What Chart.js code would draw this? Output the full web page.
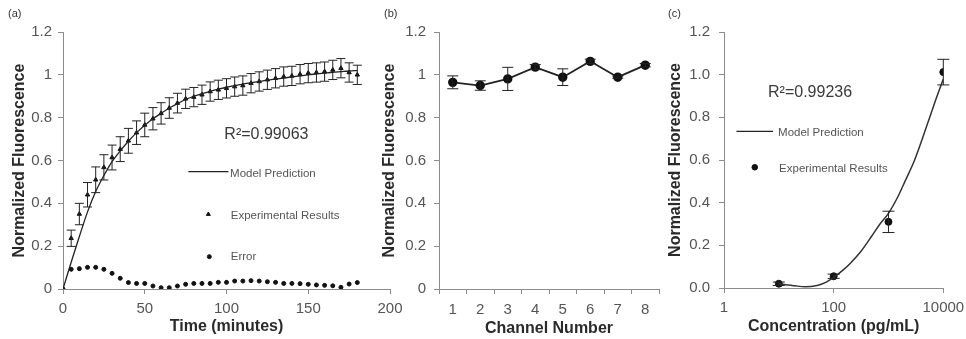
<!DOCTYPE html>
<html>
<head>
<meta charset="utf-8">
<script src="https://cdn.jsdelivr.net/npm/chart.js@4.4.1/dist/chart.umd.min.js"></script>
<style>
  body { margin: 0; background: #fff; width: 966px; height: 339px; overflow: hidden; position: relative; font-family: "Liberation Sans", Arial, sans-serif; }
  .panel { position: absolute; top: 0; height: 339px; }
  .tag { position: absolute; top: 7px; font-size: 11px; line-height: 13px; color: #333; }
</style>
</head>
<body>
<div class="panel" style="left:0;width:420px"><canvas id="chartA" width="420" height="339"></canvas></div>
<div class="panel" style="left:370px;width:310px"><canvas id="chartB" width="310" height="339"></canvas></div>
<div class="panel" style="left:656px;width:310px"><canvas id="chartC" width="310" height="339"></canvas></div>
<span class="tag" style="left:8px">(a)</span>
<span class="tag" style="left:384px">(b)</span>
<span class="tag" style="left:668px">(c)</span>
<script>
// (a) time course, one reading every 5 minutes
const timeMin = [0, 5, 10, 15, 20, 25, 30, 35, 40, 45, 50, 55, 60, 65, 70, 75, 80, 85, 90,
    95, 100, 105, 110, 115, 120, 125, 130, 135, 140, 145, 150, 155, 160, 165, 170, 175, 180];
const expA = [0, 0.237, 0.35, 0.44, 0.51, 0.568, 0.614, 0.653, 0.692, 0.73, 0.766, 0.795, 0.82,
    0.845, 0.868, 0.888, 0.896, 0.907, 0.922, 0.93, 0.937, 0.945, 0.95, 0.961, 0.969, 0.977,
    0.984, 0.992, 0.995, 1.003, 1.008, 1.011, 1.015, 1.023, 1.031, 1.011, 1.0];
const expErrA = [0, 0.038, 0.05, 0.057, 0.06, 0.059, 0.058, 0.058, 0.058, 0.055, 0.055, 0.052,
    0.05, 0.048, 0.046, 0.045, 0.045, 0.045, 0.045, 0.045, 0.045, 0.045, 0.045, 0.045, 0.045,
    0.045, 0.045, 0.045, 0.045, 0.045, 0.045, 0.045, 0.045, 0.045, 0.045, 0.045, 0.045];
const modelA = [0, 0.125, 0.245, 0.36, 0.455, 0.53, 0.595, 0.645, 0.69, 0.73, 0.765, 0.795, 0.82,
    0.845, 0.865, 0.885, 0.9, 0.912, 0.923, 0.933, 0.942, 0.95, 0.957, 0.963, 0.969, 0.975,
    0.98, 0.985, 0.99, 0.995, 1.0, 1.004, 1.008, 1.012, 1.015, 1.018, 1.02];
const errorA = [0, 0.092, 0.095, 0.101, 0.101, 0.092, 0.073, 0.05, 0.03, 0.026, 0.026, 0.014,
    0.006, 0.006, 0.014, 0.022, 0.026, 0.026, 0.026, 0.031, 0.031, 0.037, 0.037, 0.039, 0.037,
    0.034, 0.031, 0.026, 0.026, 0.025, 0.022, 0.019, 0.017, 0.015, 0.008, 0.023, 0.03];

// (b) channels
const channels = ['1', '2', '3', '4', '5', '6', '7', '8'];
const channelVals = [0.965, 0.95, 0.981, 1.036, 0.989, 1.063, 0.989, 1.045];
const channelErr = [0.03, 0.022, 0.054, 0.012, 0.039, 0.01, 0.005, 0.008];

// (c) concentration response
const concPoints = [10, 100, 1000, 10000];
const concVals = [0.02, 0.055, 0.31, 1.012];
const concErr = [0.008, 0.01, 0.05, 0.06];
const modelConc = [10, 20, 30, 50, 70, 100, 150, 200, 300, 500, 700, 1000, 1500, 2000, 3000, 5000, 7000, 10000];
const modelConcVals = [0.02, 0.01, 0.006, 0.012, 0.025, 0.05, 0.085, 0.115, 0.165, 0.245, 0.3,
    0.35, 0.43, 0.5, 0.6, 0.76, 0.87, 0.98];
const concTicks = [1, 100, 10000];

const FONT = '"Liberation Sans", Arial, sans-serif';
Chart.defaults.font.family = FONT;
Chart.defaults.animation = false;

const AXIS_GREY = '#8c8c8c';
const TICK_COLOR = '#555';
const TITLE_COLOR = '#2a2a2a';

// draws vertical error bars with caps for datasets carrying errorBars
const errorBarPlugin = {
    id: 'errorBars',
    afterDatasetsDraw(chart, args, opts) {
        const ctx = chart.ctx;
        const ys = chart.scales.y;
        chart.data.datasets.forEach((ds, i) => {
            if (!ds.errorBars) return;
            const meta = chart.getDatasetMeta(i);
            ctx.save();
            ctx.strokeStyle = '#222';
            ctx.lineWidth = 1;
            meta.data.forEach((pt, j) => {
                const e = ds.errorBars[j];
                if (!e) return;
                const raw = ds.data[j];
                const v = typeof raw === 'object' ? raw.y : raw;
                const top = ys.getPixelForValue(v + e);
                const bot = ys.getPixelForValue(v - e);
                const x = pt.x, c = opts.cap / 2;
                ctx.beginPath();
                ctx.moveTo(x, top); ctx.lineTo(x, bot);
                ctx.moveTo(x - c, top); ctx.lineTo(x + c, top);
                ctx.moveTo(x - c, bot); ctx.lineTo(x + c, bot);
                ctx.stroke();
            });
            ctx.restore();
        });
    }
};

// legend entries and R² note placed in data coordinates
const notesPlugin = {
    id: 'notes',
    afterDraw(chart, args, opts) {
        const ctx = chart.ctx;
        const xs = chart.scales.x, ys = chart.scales.y;
        (opts.items || []).forEach(it => {
            const x = xs.getPixelForValue(it.x);
            const y = ys.getPixelForValue(it.y);
            ctx.save();
            if (it.type === 'text') {
                ctx.font = `${it.size}px ${FONT}`;
                ctx.fillStyle = it.color;
                ctx.textAlign = 'left';
                ctx.textBaseline = 'middle';
                ctx.fillText(it.text, x, y);
            } else if (it.type === 'line') {
                ctx.strokeStyle = '#222';
                ctx.lineWidth = 1.3;
                ctx.beginPath();
                ctx.moveTo(x, y);
                ctx.lineTo(xs.getPixelForValue(it.x2), y);
                ctx.stroke();
            } else {
                ctx.fillStyle = '#111';
                ctx.strokeStyle = '#111';
                Chart.helpers.drawPoint(ctx, { pointStyle: it.style, radius: it.r, borderWidth: 1, rotation: 0 }, x, y);
            }
            ctx.restore();
        });
    }
};

function yAxis(width, titlePad, tickPad, fmt) {
    return {
        min: 0, max: 1.2,
        ticks: { stepSize: 0.2, color: TICK_COLOR, font: { size: 15 }, padding: tickPad, callback: fmt },
        grid: { drawOnChartArea: false, drawTicks: true, tickLength: 5, color: AXIS_GREY },
        border: { color: AXIS_GREY },
        title: { display: true, text: 'Normalized Fluorescence', color: TITLE_COLOR, font: { size: 16, weight: 'bold' }, padding: { top: titlePad, bottom: 0 } },
        afterFit: s => { s.width = width; }
    };
}

function xTitle(text, pad) {
    return { display: true, text: text, color: TITLE_COLOR, font: { size: 16, weight: 'bold' }, padding: { top: 0, bottom: pad } };
}

// fixed axis height, and let the layout padding decide the right edge
function fixHeight(h) {
    return s => { s.height = h; s.paddingLeft = 0; s.paddingRight = 0; };
}

const shortFmt = v => String(Math.round(v * 10) / 10);

// (a)
new Chart(document.getElementById('chartA'), {
    type: 'scatter',
    data: {
        datasets: [
            {
                label: 'Model Prediction',
                data: timeMin.map((t, i) => ({ x: t, y: modelA[i] })),
                showLine: true,
                borderColor: '#222',
                borderWidth: 1.3,
                pointRadius: 0,
                cubicInterpolationMode: 'monotone'
            },
            {
                label: 'Experimental Results',
                data: timeMin.map((t, i) => ({ x: t, y: expA[i] })),
                errorBars: expErrA,
                pointStyle: 'triangle',
                pointRadius: 2.5,
                backgroundColor: '#111',
                borderColor: '#111'
            },
            {
                label: 'Error',
                data: timeMin.map((t, i) => ({ x: t, y: errorA[i] })),
                pointStyle: 'circle',
                pointRadius: 2,
                backgroundColor: '#111',
                borderColor: '#111'
            }
        ]
    },
    options: {
        responsive: false,
        layout: { padding: { left: 0, top: 32, right: 30, bottom: 0 } },
        plugins: {
            legend: { display: false },
            tooltip: { enabled: false },
            errorBars: { cap: 9 },
            notes: {
                items: [
                    { type: 'text', x: 98.7, y: 0.719, text: 'R²=0.99063', size: 16, color: '#3a3a3a' },
                    { type: 'line', x: 76.7, x2: 101.2, y: 0.548 },
                    { type: 'text', x: 102.2, y: 0.54, text: 'Model Prediction', size: 11.5, color: '#555' },
                    { type: 'point', x: 88.9, y: 0.349, style: 'triangle', r: 2.3 },
                    { type: 'text', x: 102.6, y: 0.341, text: 'Experimental Results', size: 11.5, color: '#555' },
                    { type: 'point', x: 89.5, y: 0.151, style: 'circle', r: 2 },
                    { type: 'text', x: 102.6, y: 0.151, text: 'Error', size: 11.5, color: '#555' }
                ]
            }
        },
        scales: {
            x: {
                type: 'linear', min: 0, max: 200,
                ticks: { stepSize: 50, color: TICK_COLOR, font: { size: 15 }, padding: 6 },
                grid: { drawOnChartArea: false, drawTicks: true, tickLength: 5, color: AXIS_GREY },
                border: { color: AXIS_GREY },
                title: xTitle('Time (minutes)', 2.4),
                afterFit: fixHeight(50)
            },
            y: yAxis(63, 10, 6, shortFmt)
        }
    },
    plugins: [errorBarPlugin, notesPlugin]
});

// (b)
new Chart(document.getElementById('chartB'), {
    type: 'line',
    data: {
        labels: channels,
        datasets: [{
            label: 'Channel',
            data: channelVals,
            errorBars: channelErr,
            borderColor: '#222',
            borderWidth: 1.8,
            pointRadius: 3.8,
            backgroundColor: '#111',
            pointBorderColor: '#111'
        }]
    },
    options: {
        responsive: false,
        layout: { padding: { left: 0, top: 32, right: 21, bottom: 0 } },
        plugins: {
            legend: { display: false },
            tooltip: { enabled: false },
            errorBars: { cap: 11 }
        },
        scales: {
            x: {
                type: 'category', offset: true,
                ticks: { color: TICK_COLOR, font: { size: 15 }, padding: 7 },
                grid: { offset: true, drawOnChartArea: false, drawTicks: true, tickLength: 5, color: AXIS_GREY },
                border: { color: AXIS_GREY },
                title: xTitle('Channel Number', 0.5),
                afterFit: fixHeight(50)
            },
            y: yAxis(69, 10, 8, shortFmt)
        }
    },
    plugins: [errorBarPlugin]
});

// (c)
new Chart(document.getElementById('chartC'), {
    type: 'scatter',
    data: {
        datasets: [
            {
                label: 'Model Prediction',
                data: modelConc.map((c, i) => ({ x: c, y: modelConcVals[i] })),
                showLine: true,
                borderColor: '#333',
                borderWidth: 1.5,
                pointRadius: 0,
                cubicInterpolationMode: 'monotone'
            },
            {
                label: 'Experimental Results',
                data: concPoints.map((c, i) => ({ x: c, y: concVals[i] })),
                errorBars: concErr,
                pointRadius: 3.5,
                backgroundColor: '#111',
                borderColor: '#111'
            }
        ]
    },
    options: {
        responsive: false,
        layout: { padding: { left: 0, top: 32, right: 22.7, bottom: 0 } },
        plugins: {
            legend: { display: false },
            tooltip: { enabled: false },
            errorBars: { cap: 12 },
            notes: {
                items: [
                    { type: 'text', x: 6.36, y: 0.916, text: 'R²=0.99236', size: 16, color: '#3a3a3a' },
                    { type: 'line', x: 1.685, x2: 7.85, y: 0.734 },
                    { type: 'text', x: 9.69, y: 0.727, text: 'Model Prediction', size: 11.5, color: '#555' },
                    { type: 'point', x: 3.64, y: 0.566, style: 'circle', r: 2.8 },
                    { type: 'text', x: 10.1, y: 0.559, text: 'Experimental Results', size: 11.5, color: '#555' }
                ]
            }
        },
        scales: {
            x: {
                type: 'logarithmic', min: 1, max: 10000,
                afterBuildTicks: s => { s.ticks = concTicks.map(v => ({ value: v })); },
                ticks: { color: TICK_COLOR, font: { size: 15 }, padding: 5.5, callback: v => String(v) },
                grid: { drawOnChartArea: false, drawTicks: true, tickLength: 5, color: AXIS_GREY },
                border: { color: AXIS_GREY },
                title: xTitle('Concentration (pg/mL)', 2.4),
                afterFit: fixHeight(51)
            },
            y: yAxis(68, 10, 9, v => v.toFixed(1))
        }
    },
    plugins: [errorBarPlugin, notesPlugin]
});
</script>
</body>
</html>
